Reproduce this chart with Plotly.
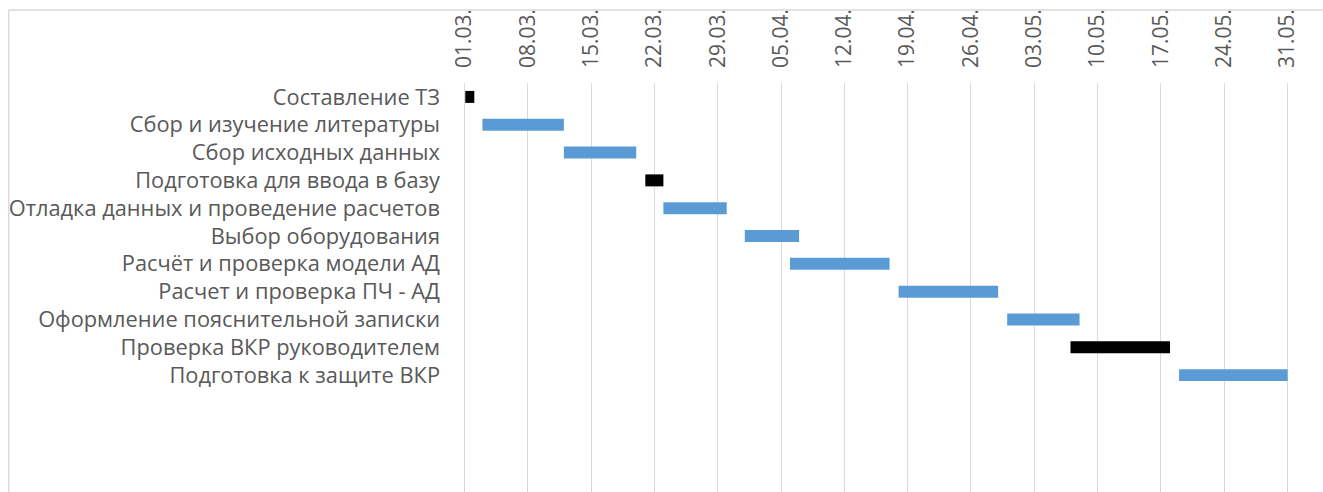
import plotly.graph_objects as go

tasks = [
    "Составление ТЗ",
    "Сбор и изучение литературы",
    "Сбор исходных данных",
    "Подготовка для ввода в базу",
    "Отладка данных и проведение расчетов",
    "Выбор оборудования",
    "Расчёт и проверка модели АД",
    "Расчет и проверка ПЧ - АД",
    "Оформление пояснительной записки",
    "Проверка ВКР руководителем",
    "Подготовка к защите ВКР",
]
# start offset in days from 01.03 and duration in days
start_day = [0.1, 2, 11, 20, 22, 31, 36, 48, 60, 67, 79]
duration = [1, 9, 8, 2, 7, 6, 11, 11, 8, 11, 12]
is_control = [True, False, False, True, False, False, False, False, False, True, False]

tick_days = [0, 7, 14, 21, 28, 35, 42, 49, 56, 63, 70, 77, 84, 91]
tick_labels = ["01.03.", "08.03.", "15.03.", "22.03.", "29.03.", "05.04.", "12.04.",
               "19.04.", "26.04.", "03.05.", "10.05.", "17.05.", "24.05.", "31.05."]

W, H = 1323, 492
PAD_DAYS = 0.15
PX_PER_DAY = (1288 - 464) / 91
L = 464 - PAD_DAYS * PX_PER_DAY
R = 1288 + PAD_DAYS * PX_PER_DAY
T, B = 83, 492

colors = ["#000000" if c else "#5B9BD5" for c in is_control]
ypos = list(range(len(tasks)))

fig = go.Figure()
fig.add_trace(go.Bar(
    y=ypos, x=duration, base=start_day, orientation="h",
    marker=dict(color=colors, line=dict(width=0)),
    width=0.43, showlegend=False,
))

font_fam = "Open Sans, Liberation Sans, sans-serif"
fig.update_layout(
    width=W, height=H,
    margin=dict(l=L, r=W - R, t=T, b=H - B, pad=0),
    paper_bgcolor="white", plot_bgcolor="white",
    xaxis=dict(
        range=[-PAD_DAYS, 91 + PAD_DAYS], side="top",
        tickvals=tick_days, ticktext=tick_labels, tickangle=-90,
        showgrid=True, gridcolor="#d9d9d9", gridwidth=1.4,
        zeroline=False, showline=False, ticks="",
        tickfont=dict(family=font_fam, size=21, color="#595959"),
        ticklabelstandoff=14,
    ),
    yaxis=dict(
        range=[14.2, -0.5], tickvals=ypos, ticktext=tasks,
        showgrid=False, zeroline=False, showline=False, ticks="",
        tickfont=dict(family=font_fam, size=21.8, color="#595959"),
        ticklabelstandoff=22,
    ),
    shapes=[
        dict(type="line", xref="paper", yref="paper",
             x0=(8 - L) / (R - L), x1=(W + 20 - L) / (R - L),
             y0=(B - 10) / (B - T), y1=(B - 10) / (B - T),
             line=dict(color="#d9d9d9", width=1.4)),
        dict(type="line", xref="paper", yref="paper",
             x0=(8 - L) / (R - L), x1=(8 - L) / (R - L),
             y0=(B - 10) / (B - T), y1=-0.2,
             line=dict(color="#d9d9d9", width=1.4)),
    ],
)

fig.write_html("out.html")
